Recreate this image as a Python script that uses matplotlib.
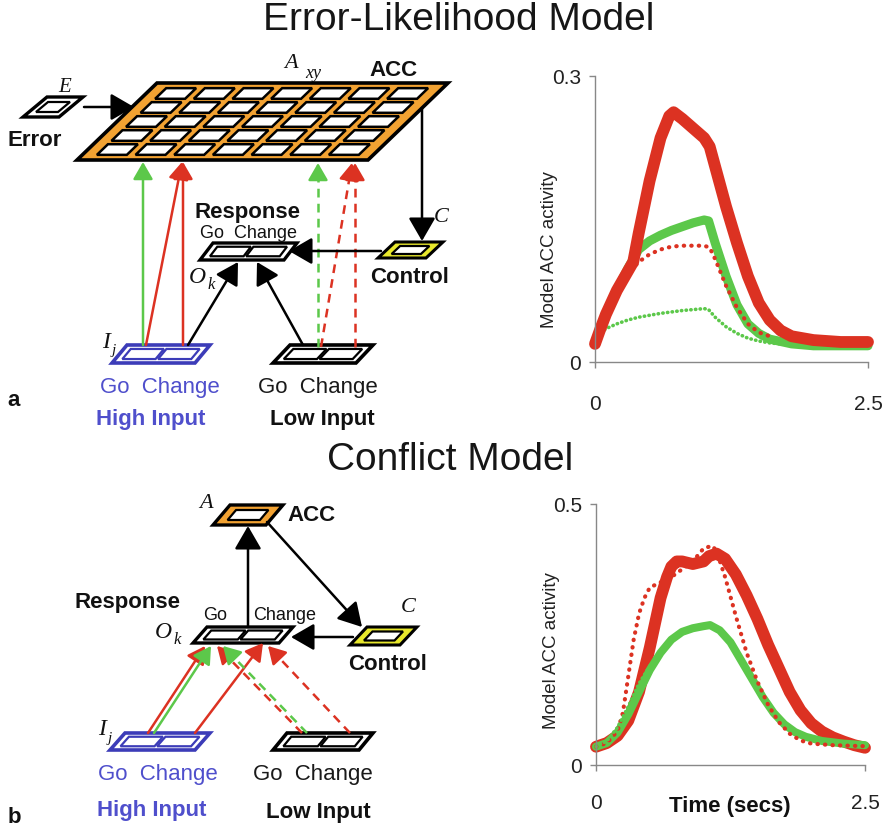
import numpy as np
import matplotlib
matplotlib.use("Agg")
import matplotlib.pyplot as plt
from matplotlib.patches import Polygon, FancyArrowPatch

plt.rcParams['font.family'] = ['Liberation Sans', 'DejaVu Sans']

# ---------------- data ----------------
# Error-likelihood model (top panel)
el_red_thick_t = [0.0, 0.05, 0.1, 0.2, 0.3, 0.35, 0.4, 0.5, 0.6, 0.68, 0.72, 0.8, 0.9, 1.0, 1.05,
                  1.1, 1.2, 1.3, 1.4, 1.5, 1.6, 1.7, 1.8, 2.0, 2.25, 2.5]
el_red_thick_y = [0.019, 0.035, 0.05, 0.075, 0.095, 0.105, 0.135, 0.19, 0.235, 0.258, 0.262, 0.255,
                  0.245, 0.235, 0.226, 0.205, 0.163, 0.125, 0.09, 0.062, 0.044, 0.033, 0.027, 0.023,
                  0.021, 0.021]
el_green_thick_t = [0.0, 0.1, 0.2, 0.3, 0.4, 0.5, 0.6, 0.7, 0.8, 0.9, 1.0, 1.04, 1.1, 1.2, 1.3,
                    1.4, 1.5, 1.6, 1.8, 2.0, 2.2, 2.5]
el_green_thick_y = [0.02, 0.05, 0.075, 0.098, 0.118, 0.127, 0.133, 0.138, 0.142, 0.146, 0.149, 0.148,
                    0.125, 0.09, 0.06, 0.04, 0.03, 0.024, 0.019, 0.017, 0.017, 0.017]
el_red_dot_t = [0.0, 0.05, 0.1, 0.2, 0.3, 0.4, 0.5, 0.6, 0.7, 0.8, 0.9, 1.0, 1.05, 1.1, 1.2, 1.3,
                1.4, 1.5, 1.6]
el_red_dot_y = [0.019, 0.03, 0.047, 0.072, 0.092, 0.105, 0.113, 0.118, 0.121, 0.122, 0.122, 0.122,
                0.12, 0.108, 0.08, 0.057, 0.04, 0.031, 0.027]
el_green_dot_t = [0.0, 0.05, 0.1, 0.2, 0.3, 0.4, 0.5, 0.6, 0.7, 0.8, 0.9, 1.0, 1.04, 1.1, 1.2,
                  1.3, 1.4, 1.5, 1.6, 1.8, 2.0, 2.2]
el_green_dot_y = [0.023, 0.03, 0.035, 0.04, 0.044, 0.047, 0.049, 0.051, 0.0525, 0.054, 0.055, 0.056,
                  0.055, 0.047, 0.037, 0.03, 0.025, 0.022, 0.02, 0.018, 0.017, 0.016]

# Conflict model (bottom panel)
cf_red_thick_t = [0.0, 0.1, 0.2, 0.3, 0.4, 0.5, 0.6, 0.66, 0.7, 0.75, 0.8, 0.9, 1.0, 1.05, 1.12,
                  1.2, 1.3, 1.4, 1.5, 1.6, 1.7, 1.8, 1.9, 2.0, 2.1, 2.2, 2.3, 2.4, 2.5]
cf_red_thick_y = [0.035, 0.042, 0.056, 0.085, 0.14, 0.225, 0.32, 0.36, 0.38, 0.39, 0.39, 0.385,
                  0.39, 0.4, 0.405, 0.395, 0.365, 0.325, 0.28, 0.23, 0.185, 0.14, 0.105, 0.08,
                  0.064, 0.053, 0.045, 0.038, 0.033]
cf_red_dot_t = [0.0, 0.1, 0.2, 0.25, 0.3, 0.35, 0.4, 0.45, 0.5, 0.6, 0.7, 0.8, 0.9, 1.0, 1.08,
                1.12, 1.2, 1.3, 1.4, 1.5, 1.6, 1.7, 1.8, 1.9, 2.0, 2.2, 2.5]
cf_red_dot_y = [0.035, 0.042, 0.065, 0.1, 0.17, 0.24, 0.29, 0.32, 0.34, 0.35, 0.36, 0.375, 0.39,
                0.415, 0.42, 0.41, 0.36, 0.285, 0.215, 0.16, 0.115, 0.082, 0.06, 0.047, 0.041,
                0.038, 0.036]
cf_green_thick_t = [0.0, 0.1, 0.2, 0.3, 0.4, 0.5, 0.6, 0.7, 0.8, 0.9, 1.0, 1.06, 1.15, 1.25, 1.35,
                    1.45, 1.55, 1.65, 1.75, 1.85, 1.95, 2.1, 2.3, 2.5]
cf_green_thick_y = [0.035, 0.042, 0.062, 0.097, 0.14, 0.182, 0.215, 0.24, 0.255, 0.262, 0.266, 0.268,
                    0.258, 0.235, 0.2, 0.165, 0.13, 0.1, 0.078, 0.063, 0.054, 0.046, 0.041, 0.038]
cf_green_dot_t = [0.0, 0.1, 0.2, 0.3, 0.4, 0.5]
cf_green_dot_y = [0.035, 0.046, 0.072, 0.112, 0.156, 0.19]

y_ticks_top = [0, 0.3]
y_tick_labels_top = ['0', '0.3']
y_ticks_bot = [0, 0.5]
y_tick_labels_bot = ['0', '0.5']
x_ticks = [0, 2.5]
x_tick_labels = ['0', '2.5']

RED = '#dc3222'
GREEN = '#5cc84a'
BLUE = '#3c3cb8'
BLUE_TXT = '#4f4fcc'
ORANGE = '#f2a232'
YELLOW = '#e8e82c'

W, H = 889, 830
fig = plt.figure(figsize=(W / 100, H / 100), dpi=100)

# ---------------- overlay for the diagrams ----------------
ov = fig.add_axes([0, 0, 1, 1])
ov.set_xlim(0, W)
ov.set_ylim(H, 0)
ov.axis('off')
ov.patch.set_visible(False)


def P(x, y, w, h, s, u, v):
    return (x + u * w - v * s, y + v * h)


def box(x, y, w, h, s, ncell, fc, ec, lw=2.4, mu=0.07, mv=0.22, gap=0.03, clw=1.6, nrow=1, vin=0.0):
    outer = [P(x, y, w, h, s, 0, 0), P(x, y, w, h, s, 1, 0), P(x, y, w, h, s, 1, 1), P(x, y, w, h, s, 0, 1)]
    ov.add_patch(Polygon(outer, closed=True, fc=fc, ec=ec, lw=lw, joinstyle='miter', zorder=3))
    cw = (1 - 2 * mu) / ncell
    ch = (1 - 2 * mv) / nrow
    for j in range(nrow):
        for i in range(ncell):
            u0 = mu + i * cw + gap / 2
            u1 = mu + (i + 1) * cw - gap / 2
            v0 = mv + j * ch + vin
            v1 = mv + (j + 1) * ch - vin
            cell = [P(x, y, w, h, s, u0, v0), P(x, y, w, h, s, u1, v0), P(x, y, w, h, s, u1, v1),
                    P(x, y, w, h, s, u0, v1)]
            ov.add_patch(Polygon(cell, closed=True, fc='white', ec=ec, lw=clw, zorder=4))


def arrow(p0, p1, color='k', lw=1.8, ls='-', ms=12, hl=0.95, hw=0.55):
    style = f'-|>,head_length={hl},head_width={hw}'
    if ls == '-':
        ov.add_patch(FancyArrowPatch(p0, p1, arrowstyle=style, mutation_scale=ms, color=color,
                                     lw=lw, shrinkA=0, shrinkB=0, zorder=5))
    else:
        d = np.array(p1, float) - np.array(p0, float)
        d /= np.hypot(*d)
        mid = np.array(p1, float) - d * 11
        ov.plot([p0[0], mid[0]], [p0[1], mid[1]], color=color, lw=lw, ls=(0, (3.5, 2.5)), zorder=5)
        ov.add_patch(FancyArrowPatch(tuple(mid - d * 2), p1, arrowstyle=style, mutation_scale=ms,
                                     color=color, lw=lw, shrinkA=0, shrinkB=0, zorder=5))


def txt(x, y, s, size=15, bold=False, color='#111111', ha='center', serif_it=False):
    kw = dict(ha=ha, va='center', fontsize=size, color=color, zorder=6)
    if serif_it:
        kw.update(family=['Liberation Serif', 'DejaVu Serif'], style='italic')
    if bold:
        kw['fontweight'] = 'bold'
    ov.text(x, y, s, **kw)


# ---- top diagram: error-likelihood model ----
txt(459, 20, 'Error-Likelihood Model', size=28, color='#161616')
txt(450, 460, 'Conflict Model', size=28, color='#161616')

arrow((143, 345), (143, 162), color=GREEN, lw=1.8, ms=11)
arrow((146, 345), (182, 162), color=RED, lw=1.8, ms=11)
arrow((183, 345), (183, 162), color=RED, lw=1.8, ms=11)
arrow((318, 347), (318, 163), color=GREEN, lw=1.8, ls='--', ms=11)
arrow((321, 347), (352, 163), color=RED, lw=1.8, ls='--', ms=11)
arrow((355, 347), (355, 163), color=RED, lw=1.8, ls='--', ms=11)
arrow((84, 107), (134, 107), ms=15)
arrow((422, 108), (422, 241), ms=15)
arrow((381, 251), (289, 251), ms=15)
arrow((188, 345), (238, 262), ms=14)
arrow((303, 345), (257, 262), ms=14)

box(157, 83, 291, 77, 80, 7, ORANGE, 'k', lw=2.6, mu=0.035, mv=0.045, gap=0.03, clw=1.8, nrow=5,
    vin=0.022)
box(47, 97, 36, 20, 24, 1, 'white', 'k', lw=2.4, mu=0.18, mv=0.25)
box(395, 242, 48, 16, 17, 1, YELLOW, 'k', lw=2.2, mu=0.18, mv=0.25)
box(213, 243, 84, 17, 13, 2, 'white', 'k', lw=2.4)
box(127, 345, 83, 18, 15, 2, 'white', BLUE, lw=2.6)
box(290, 345, 83, 18, 17, 2, 'white', 'k', lw=2.6)

txt(65, 88, 'E', size=15, serif_it=True)
txt(35, 141, 'Error', size=16, bold=True)
txt(291, 64, 'A', size=16, serif_it=True)
txt(313, 73, 'xy', size=13, serif_it=True)
txt(394, 70, 'ACC', size=16, bold=True)
txt(247, 212, 'Response', size=16, bold=True)
txt(248, 233, 'Go  Change', size=13)
txt(197, 277, 'O', size=17, serif_it=True)
txt(211, 285, 'k', size=12, serif_it=True)
txt(441, 217, 'C', size=16, serif_it=True)
txt(410, 277, 'Control', size=16, bold=True)
txt(106, 342, 'I', size=17, serif_it=True)
txt(114, 350, 'j', size=11, serif_it=True)
txt(160, 387, 'Go  Change', size=16, color=BLUE_TXT)
txt(318, 387, 'Go  Change', size=16, color='#1a1a1a')
txt(151, 419, 'High Input', size=16, bold=True, color=BLUE_TXT)
txt(322, 419, 'Low Input', size=16, bold=True)
txt(14, 400, 'a', size=16, bold=True)

# ---- bottom diagram: conflict model ----
arrow((248, 627), (248, 526), ms=15)
arrow((267, 522), (362, 627), ms=15)
arrow((353, 637), (291, 637), ms=15)
arrow((148, 733), (205, 646), color=RED, lw=1.8, ms=11)
arrow((154, 733), (211, 646), color=GREEN, lw=1.8, ms=11)
arrow((195, 733), (263, 643), color=RED, lw=1.8, ms=11)
arrow((302, 733), (217, 646), color=RED, lw=1.8, ls='--', ms=11)
arrow((307, 733), (223, 646), color=GREEN, lw=1.8, ls='--', ms=11)
arrow((350, 733), (268, 646), color=RED, lw=1.8, ls='--', ms=11)

box(230, 505, 53, 20, 17, 1, ORANGE, 'k', lw=2.4, mu=0.18, mv=0.25)
box(367, 627, 50, 18, 17, 1, YELLOW, 'k', lw=2.2, mu=0.18, mv=0.25)
box(207, 627, 86, 16, 14, 2, 'white', 'k', lw=2.4)
box(125, 733, 85, 17, 15, 2, 'white', BLUE, lw=2.6)
box(287, 733, 86, 17, 14, 2, 'white', 'k', lw=2.6)

txt(206, 503, 'A', size=16, serif_it=True)
txt(312, 515, 'ACC', size=16, bold=True)
txt(128, 602, 'Response', size=16, bold=True)
txt(215, 615, 'Go', size=13)
txt(285, 615, 'Change', size=13)
txt(163, 632, 'O', size=17, serif_it=True)
txt(177, 640, 'k', size=12, serif_it=True)
txt(408, 607, 'C', size=16, serif_it=True)
txt(388, 664, 'Control', size=16, bold=True)
txt(102, 729, 'I', size=17, serif_it=True)
txt(110, 738, 'j', size=11, serif_it=True)
txt(158, 774, 'Go  Change', size=16, color=BLUE_TXT)
txt(313, 774, 'Go  Change', size=16, color='#1a1a1a')
txt(152, 810, 'High Input', size=16, bold=True, color=BLUE_TXT)
txt(318, 812, 'Low Input', size=16, bold=True)
txt(14, 817, 'b', size=16, bold=True)


# ---------------- line charts ----------------
def make_ax(l, t, r, b, xpad):
    ax = fig.add_axes([l / W, 1 - b / H, (r - l) / W, (b - t) / H])
    ax.patch.set_visible(False)
    for sp in ('top', 'right'):
        ax.spines[sp].set_visible(False)
    for sp in ('left', 'bottom'):
        ax.spines[sp].set_color('#888888')
        ax.spines[sp].set_linewidth(1.0)
    ax.tick_params(axis='both', colors='#888888', length=4, width=1.0, labelsize=15,
                   labelcolor='#222222')
    ax.tick_params(axis='x', pad=xpad)
    ax.tick_params(axis='y', pad=6)
    ax.set_xlim(0, 2.5)
    ax.set_xticks(x_ticks)
    ax.set_xticklabels(x_tick_labels)
    return ax


dot_red = dict(color=RED, lw=3.0, ls=(0, (0.1, 1.7)), dash_capstyle='round', clip_on=False)
dot_green = dict(color=GREEN, lw=2.6, ls=(0, (0.1, 1.2)), dash_capstyle='round', clip_on=False)

ax1 = make_ax(595, 76, 868, 362, 20)
ax1.set_ylim(0, 0.3)
ax1.set_yticks(y_ticks_top)
ax1.set_yticklabels(y_tick_labels_top)
ax1.plot(el_green_dot_t, el_green_dot_y, **dot_green)
ax1.plot(el_green_thick_t, el_green_thick_y, color=GREEN, lw=6.5, solid_capstyle='round',
         solid_joinstyle='round', clip_on=False)
ax1.plot(el_red_dot_t, el_red_dot_y, **dot_red)
ax1.plot(el_red_thick_t, el_red_thick_y, color=RED, lw=8.5, solid_capstyle='round',
         solid_joinstyle='round', clip_on=False)

ax2 = make_ax(596, 504, 865, 765, 17)
ax2.set_ylim(0, 0.5)
ax2.set_yticks(y_ticks_bot)
ax2.set_yticklabels(y_tick_labels_bot)
ax2.plot(cf_red_thick_t, cf_red_thick_y, color=RED, lw=8.5, solid_capstyle='round',
         solid_joinstyle='round', clip_on=False)
ax2.plot(cf_green_thick_t, cf_green_thick_y, color=GREEN, lw=5.8, solid_capstyle='round',
         solid_joinstyle='round', clip_on=False)
ax2.plot(cf_red_dot_t, cf_red_dot_y, **dot_red)
ax2.plot(cf_green_dot_t, cf_green_dot_y, **dot_green)

ov.text(550, 250, 'Model ACC activity', rotation=90, ha='center', va='center', fontsize=13.5,
        color='#222222')
ov.text(552, 651, 'Model ACC activity', rotation=90, ha='center', va='center', fontsize=13.5,
        color='#222222')
ov.text(730, 806, 'Time (secs)', ha='center', va='center', fontsize=16, fontweight='bold',
        color='#111111')

fig.savefig('out.png', dpi=100)
